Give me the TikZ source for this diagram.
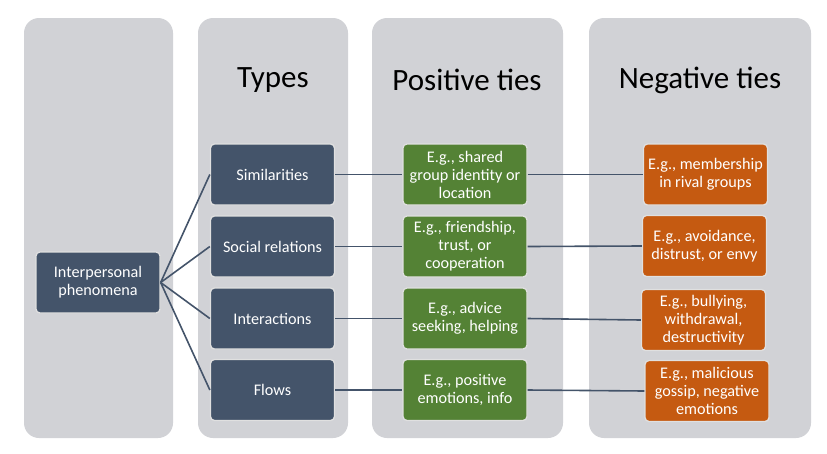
\documentclass[tikz,border=0pt]{standalone}
\usepackage{fontspec}
\setmainfont{Carlito}
\definecolor{colgray}{RGB}{209,210,214}
\definecolor{typeblue}{RGB}{68,84,106}
\definecolor{posgreen}{RGB}{84,130,53}
\definecolor{negorange}{RGB}{197,90,17}

\tikzset{
  box/.style={rounded corners=4pt, draw=white!88!black, line width=1.3pt, text=white,
    align=center, minimum width=124pt, minimum height=61pt, inner sep=1pt,
    font=\fontsize{16.2}{18}\selectfont},
  title/.style={font=\fontsize{31}{34}\selectfont},
  tie/.style={typeblue, line width=1.6pt},
}

\begin{document}
\begin{tikzpicture}[x=1pt,y=-1pt]
  \useasboundingbox (0,0) rectangle (827,453);
  % columns
  \foreach \a/\b in {24/173,198/348,372/563,589/811} {
    \fill[colgray, rounded corners=15pt](\a,18)rectangle(\b,438);
  }
  \node[title] (types) at (273,80) {Types};
  \node[title] (postitle) at (467,80) {Positive ties};
  \node[title] (negtitle) at (700,80) {Negative ties};

  \node[box, fill=typeblue] (phen) at (98,282.5) {Interpersonal\\phenomena};

  \node[box, fill=typeblue] (sim) at (272.5,174.5) {Similarities};
  \node[box, fill=typeblue] (soc) at (272.5,246.5) {Social relations};
  \node[box, fill=typeblue] (inter) at (272.5,318.5) {Interactions};
  \node[box, fill=typeblue] (flows) at (272.5,390) {Flows};

  \node[box, fill=posgreen] (possim) at (465,174.5) {E.g., shared\\group identity or\\location};
  \node[box, fill=posgreen] (possoc) at (465,246.5) {E.g., friendship,\\trust, or\\cooperation};
  \node[box, fill=posgreen] (posint) at (465,318.5) {E.g., advice\\seeking, helping};
  \node[box, fill=posgreen] (posflow) at (465,390) {E.g., positive\\emotions, info};

  \node[box, fill=negorange] (negsim) at (705.5,174.5) {E.g., membership\\in rival groups};
  \node[box, fill=negorange] (negsoc) at (704.5,246) {E.g., avoidance,\\distrust, or envy};
  \node[box, fill=negorange] (negint) at (703.5,320) {E.g., bullying,\\withdrawal,\\destructivity};
  \node[box, fill=negorange] (negflow) at (707,391) {E.g., malicious\\gossip, negative\\emotions};

  % connectors
  \foreach \t/\p/\n in {sim/possim/negsim,soc/possoc/negsoc,inter/posint/negint,flows/posflow/negflow} {
    \draw[tie](phen.east)--(\t.west);
    \draw[tie](\t.east)--(\p.west);
    \draw[tie](\p.east)--(\n.west);
  }
\end{tikzpicture}
\end{document}
